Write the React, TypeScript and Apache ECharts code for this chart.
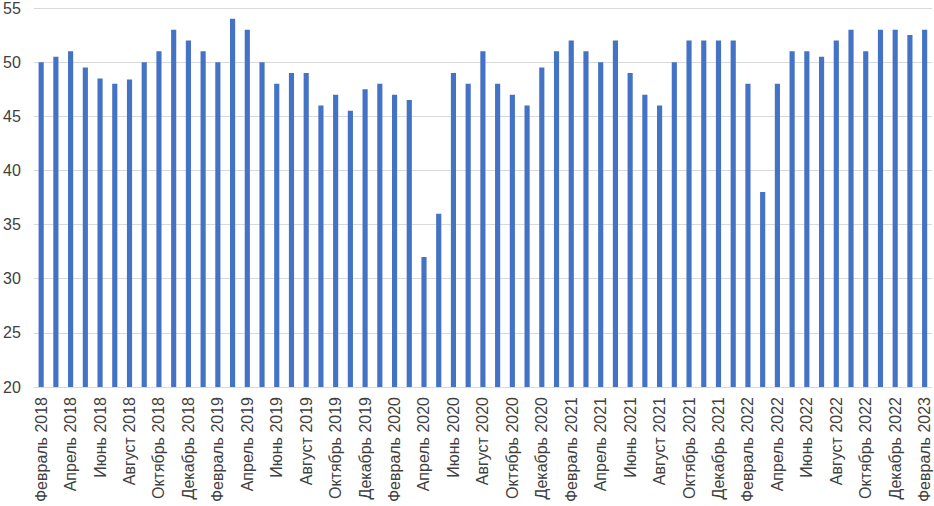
import React, { useEffect, useRef } from "react";
import * as echarts from "echarts";

const monthNames = ["Январь", "Февраль", "Март", "Апрель", "Май", "Июнь", "Июль", "Август", "Сентябрь", "Октябрь", "Ноябрь", "Декабрь"];
const startYear = 2018;
const startMonth = 1; // February (0-based)
const monthCount = 61;

const categories: string[] = [];
for (let i = 0; i < monthCount; i++) {
  const m = (startMonth + i) % 12;
  const y = startYear + Math.floor((startMonth + i) / 12);
  categories.push(`${monthNames[m]} ${y}`);
}

const values = [
  50, 50.5, 51, 49.5, 48.5, 48, 48.4, 50, 51, 53, 52, 51,
  50, 54, 53, 50, 48, 49, 49, 46, 47, 45.5, 47.5, 48,
  47, 46.5, 32, 36, 49, 48, 51, 48, 47, 46, 49.5, 51,
  52, 51, 50, 52, 49, 47, 46, 50, 52, 52, 52, 52,
  48, 38, 48, 51, 51, 50.5, 52, 53, 51, 53, 53, 52.5,
  53,
];

const yMin = 20;
const yMax = 55;
const yStep = 5;

export default function App() {
  const ref = useRef<HTMLDivElement>(null);
  useEffect(() => {
    if (!ref.current) return;
    const chart = echarts.init(ref.current, null, { renderer: "svg" });
    chart.setOption({
      animation: false,
      textStyle: { fontFamily: "Liberation Sans, Arial, sans-serif" },
      grid: { left: 32, right: 2, top: 6, bottom: 119, containLabel: false },
      xAxis: {
        type: "category",
        data: categories,
        boundaryGap: true,
        axisLine: { show: true, lineStyle: { color: "#d9d9d9", width: 1 } },
        axisTick: { show: false },
        axisLabel: {
          interval: 1,
          rotate: 90,
          fontSize: 16,
          color: "#404040",
          margin: 10,
        },
      },
      yAxis: {
        type: "value",
        min: yMin,
        max: yMax,
        interval: yStep,
        axisLine: { show: false },
        axisTick: { show: false },
        splitLine: { lineStyle: { color: "#d9d9d9", width: 1 } },
        axisLabel: { fontSize: 16, color: "#404040", margin: 13 },
      },
      series: [
        {
          type: "bar",
          data: values,
          barWidth: "35%",
          itemStyle: { color: "#4472C4" },
        },
      ],
    });
    return () => chart.dispose();
  }, []);
  return (
    <div
      ref={ref}
      style={{ position: "absolute", left: 0, top: 0, width: 934, height: 506 }}
    />
  );
}
